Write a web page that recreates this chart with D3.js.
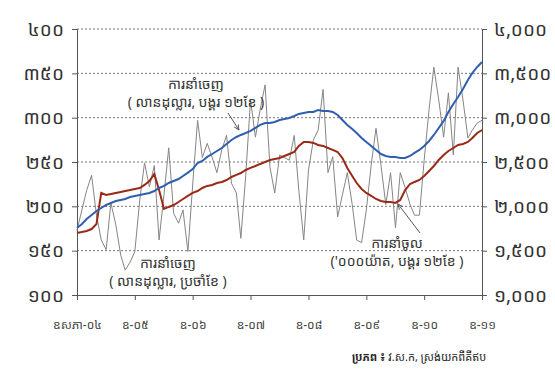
<!DOCTYPE html>
<html>
<head>
<meta charset="utf-8">
<script src="https://cdn.jsdelivr.net/npm/d3@7"></script>
<style>
  body { margin: 0; background: #fff; }
  svg text { font-family: "Khmer OS", "Noto Sans Khmer", "Khmer OS System", "DejaVu Sans", sans-serif; }
</style>
</head>
<body>
<div id="chart"></div>
<script>
// monthly, May 2004 - May 2011
var exportMonthly = [173,196,218,235,190,162,151,204,179,145,
  128,137,149,207,249,222,246,162,213,266,
  192,181,196,149,224,297,255,271,255,238,
  264,280,226,215,164,235,320,278,309,337,
  244,215,258,255,252,280,218,162,241,275,
  286,332,238,256,188,213,238,202,162,159,
  196,247,288,247,202,238,176,238,221,202,
  190,190,252,309,357,320,278,328,258,357,
  320,277,286,294,297];

var exportCum = [1756,1801,1857,1902,1948,1981,2015,2038,2060,2072,
  2083,2105,2117,2128,2139,2151,2173,2207,2230,2263,
  2286,2308,2342,2380,2420,2489,2512,2557,2590,2624,
  2658,2703,2748,2782,2805,2827,2850,2884,2918,2940,
  2940,2951,2974,2985,2997,3019,3042,3053,3064,3064,
  3087,3076,3076,3064,3030,2974,2918,2872,2827,2771,
  2726,2681,2636,2590,2568,2557,2557,2545,2545,2568,
  2602,2636,2681,2737,2805,2884,2963,3064,3154,3233,
  3324,3425,3504,3572,3628];

var importCum = [1699,1711,1722,1744,1801,2151,2128,2139,2151,2162,
  2173,2184,2196,2207,2241,2286,2365,2184,1970,1993,
  2015,2049,2083,2117,2151,2173,2207,2230,2241,2263,
  2275,2297,2331,2354,2376,2410,2433,2455,2478,2500,
  2523,2534,2545,2568,2590,2613,2681,2726,2726,2715,
  2692,2681,2658,2636,2613,2545,2433,2342,2263,2196,
  2151,2117,2083,2060,2049,2049,2038,2072,2184,2252,
  2275,2297,2342,2399,2455,2523,2579,2624,2658,2692,
  2703,2726,2771,2827,2861];

var leftTicks = [100,150,200,250,300,350,400];
var leftTickLabels = ["១០០","១៥០","២០០","២៥០","៣០០","៣៥០","៤០០"];
var rightTicks = [1000,1500,2000,2500,3000,3500,4000];
var rightTickLabels = ["១,០០០","១,៥០០","២,០០០","២,៥០០","៣,០០០","៣,៥០០","៤,០០០"];
var xTickYears = [2004,2005,2006,2007,2008,2009,2010,2011];
var xTickLabels = ["ឧសភា-០៤","ឧ-០៥","ឧ-០៦","ឧ-០៧","ឧ-០៨","ឧ-០៩","ឧ-១០","ឧ-១១"];

var svgWidth = 555, svgHeight = 370;
var x0 = 77, x1 = 482, yTop = 29, yBottom = 295;

var svg = d3.select("#chart").append("svg")
  .attr("width", svgWidth)
  .attr("height", svgHeight);

var start = new Date(2004, 4, 1);
var months = d3.timeMonth.range(start, d3.timeMonth.offset(start, exportMonthly.length));

var x = d3.scaleTime()
  .domain([start, new Date(2011, 4, 1)])
  .range([x0, x1]);
var yLeft = d3.scaleLinear().domain([100, 400]).range([yBottom, yTop]);
var yRight = d3.scaleLinear().domain([1000, 4000]).range([yBottom, yTop]);

// gridlines
svg.append("g").selectAll("line")
  .data(leftTicks.slice(1))
  .enter().append("line")
  .attr("x1", x0).attr("x2", x1)
  .attr("y1", d => yLeft(d)).attr("y2", d => yLeft(d))
  .attr("stroke", "#777")
  .attr("stroke-width", 1)
  .attr("stroke-dasharray", "2,2");

// axes
var leftAxis = d3.axisLeft(yLeft).tickValues(leftTicks)
  .tickFormat((d, i) => leftTickLabels[i]).tickSize(5).tickPadding(8);
var rightAxis = d3.axisRight(yRight).tickValues(rightTicks)
  .tickFormat((d, i) => rightTickLabels[i]).tickSize(5).tickPadding(7);
var xTicks = xTickYears.map(yr => new Date(yr, 4, 1));
var bottomAxis = d3.axisBottom(x).tickValues(xTicks)
  .tickFormat((d, i) => xTickLabels[i]).tickSize(5).tickPadding(20);

var gl = svg.append("g").attr("transform", `translate(${x0},0)`).call(leftAxis);
var gr = svg.append("g").attr("transform", `translate(${x1},0)`).call(rightAxis);
var gb = svg.append("g").attr("transform", `translate(0,${yBottom})`).call(bottomAxis);

[gl, gr, gb].forEach(function(g) {
  g.select(".domain").attr("stroke", "#555");
  g.selectAll(".tick line").attr("stroke", "#555");
});
gl.selectAll("text").style("font-size", "19px").attr("fill", "#333");
gr.selectAll("text").style("font-size", "19px").attr("fill", "#333");
gb.selectAll("text").style("font-size", "12px").attr("fill", "#444");

// lines
var lineL = d3.line().x((d, i) => x(months[i])).y(d => yLeft(d));
var lineR = d3.line().x((d, i) => x(months[i])).y(d => yRight(d));

svg.append("path").datum(exportMonthly)
  .attr("d", lineL).attr("fill", "none")
  .attr("stroke", "#858585").attr("stroke-width", 1);

svg.append("path").datum(importCum)
  .attr("d", lineR).attr("fill", "none")
  .attr("stroke", "#9a2a18").attr("stroke-width", 2);

svg.append("path").datum(exportCum)
  .attr("d", lineR).attr("fill", "none")
  .attr("stroke", "#2f5fae").attr("stroke-width", 2);

// annotations
svg.append("defs").append("marker")
  .attr("id", "arrow")
  .attr("viewBox", "0 0 10 10")
  .attr("refX", 9).attr("refY", 5)
  .attr("markerWidth", 6).attr("markerHeight", 6)
  .attr("orient", "auto")
  .append("path").attr("d", "M0,1L9,5L0,9").attr("fill", "none").attr("stroke", "#555").attr("stroke-width", 1.5);

function label(cx, cy, lines) {
  lines.forEach(function(s, i) {
    svg.append("text").attr("text-anchor", "middle")
      .style("font-size", "14px").attr("fill", "#333")
      .attr("x", cx).attr("y", cy + i * 18).text(s);
  });
}

label(196, 89, ["ការនាំចេញ", "( លានដុល្លារ, បង្គរ ១២ខែ )"]);
label(168, 268, ["ការនាំចេញ", "( លានដុល្លារ, ប្រចាំខែ )"]);
label(397, 248, ["ការនាំចូល", "('០០០យ៉ាត, បង្គរ ១២ខែ )"]);

svg.append("line").attr("x1", 228).attr("y1", 113).attr("x2", 239).attr("y2", 130)
  .attr("stroke", "#555").attr("marker-end", "url(#arrow)");
svg.append("line").attr("x1", 420).attr("y1", 233).attr("x2", 398).attr("y2", 204)
  .attr("stroke", "#555").attr("marker-end", "url(#arrow)");

// source
var src = svg.append("text").attr("x", 352).attr("y", 361)
  .style("font-size", "11px").attr("fill", "#222");
src.append("tspan").style("font-weight", "bold").text("ប្រភព ៖ ");
src.append("tspan").text("វ.ស.ក, ស្រង់យកពីគីឥប");
</script>
</body>
</html>
